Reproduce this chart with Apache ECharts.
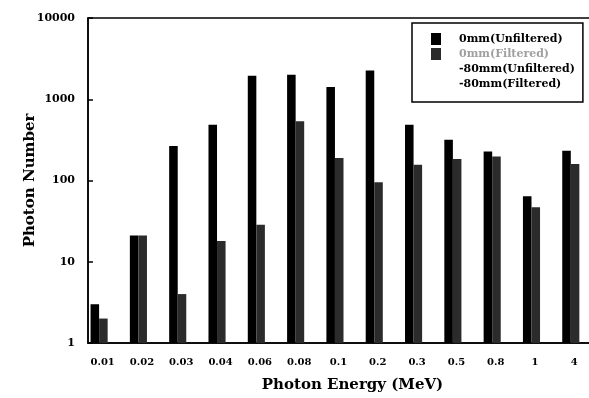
<!DOCTYPE html>
<html>
<head>
<meta charset="utf-8">
<script src="https://cdn.jsdelivr.net/npm/echarts@6/dist/echarts.min.js"></script>
<style>html,body{margin:0;padding:0;background:#fff;}#c{width:589px;height:398px;}</style>
</head>
<body>
<div id="c"></div>
<script>
var categories = ['0.01','0.02','0.03','0.04','0.06','0.08','0.1','0.2','0.3','0.5','0.8','1','4'];
var unfiltered0 = [3, 21, 265, 485, 1950, 2000, 1420, 2260, 486, 318, 228, 64, 233];
var filtered0   = [2, 21, 4, 18, 28.5, 535, 189, 95, 156, 184, 198, 47, 160];
var unfiltered80 = [null, null, null, null, null, null, null, null, null, null, null, null, null];
var filtered80   = [null, null, null, null, null, null, null, null, null, null, null, null, null];
var seriesNames = ['0mm(Unfiltered)', '0mm(Filtered)', '-80mm(Unfiltered)', '-80mm(Filtered)'];

var FONT = 'DejaVu Serif';
var chart = echarts.init(document.getElementById('c'), null, {renderer: 'canvas'});
chart.setOption({
  animation: false,
  backgroundColor: '#fff',
  grid: {left: 88, top: 18, width: 511, height: 325, outerBoundsMode: 'none', containLabel: false,
         show: true, borderColor: '#000', borderWidth: 1.5, backgroundColor: 'transparent'},
  legend: {
    orient: 'vertical', left: 412, top: 23,
    padding: [10, 8, 12, 19], itemGap: 3,
    borderColor: '#000', borderWidth: 1.5, backgroundColor: '#fff',
    itemWidth: 10, itemHeight: 12, icon: 'rect',
    textStyle: {fontFamily: FONT, fontWeight: 'bold', fontSize: 11, color: '#000', padding: [0, 0, 0, 13]},
    data: [
      {name: seriesNames[0]},
      {name: seriesNames[1], textStyle: {color: '#a0a0a0'}},
      {name: seriesNames[2]},
      {name: seriesNames[3]}
    ]
  },
  xAxis: {
    type: 'category', data: categories, boundaryGap: true,
    axisLine: {lineStyle: {color: '#000', width: 1.5}},
    axisTick: {inside: true, length: 5, lineStyle: {color: '#000', width: 1.5}},
    axisLabel: {margin: 14, fontFamily: FONT, fontWeight: 'bold', fontSize: 10, color: '#000', padding: [0, 10, 0, 0]},
    name: 'Photon Energy (MeV)', nameLocation: 'middle', nameGap: 35, nameMoveOverlap: false,
    nameTextStyle: {fontFamily: FONT, fontWeight: 'bold', fontSize: 15, color: '#000', padding: [0, 0, 0, 18]}
  },
  yAxis: {
    type: 'log', logBase: 10, min: 1, max: 10000,
    axisLine: {show: true, lineStyle: {color: '#000', width: 1.5}},
    axisTick: {show: true, inside: true, length: 5, lineStyle: {color: '#000', width: 1.5}},
    splitLine: {show: false},
    axisLabel: {margin: 13, fontFamily: FONT, fontWeight: 'bold', fontSize: 11, color: '#000',
                formatter: function (v) { return String(Math.round(v)); }},
    name: 'Photon Number', nameLocation: 'middle', nameGap: 50, nameMoveOverlap: false,
    nameTextStyle: {fontFamily: FONT, fontWeight: 'bold', fontSize: 15, color: '#000'}
  },
  series: [
    {name: seriesNames[0], type: 'bar', data: unfiltered0, itemStyle: {color: '#000'}, barGap: '0%', barCategoryGap: '13%'},
    {name: seriesNames[1], type: 'bar', data: filtered0, itemStyle: {color: '#2b2b2b'}, barGap: '0%', barCategoryGap: '13%'},
    {name: seriesNames[2], type: 'bar', data: unfiltered80, itemStyle: {color: '#fff'}, barGap: '0%', barCategoryGap: '13%'},
    {name: seriesNames[3], type: 'bar', data: filtered80, itemStyle: {color: '#fff'}, barGap: '0%', barCategoryGap: '13%'}
  ]
});
</script>
</body>
</html>
